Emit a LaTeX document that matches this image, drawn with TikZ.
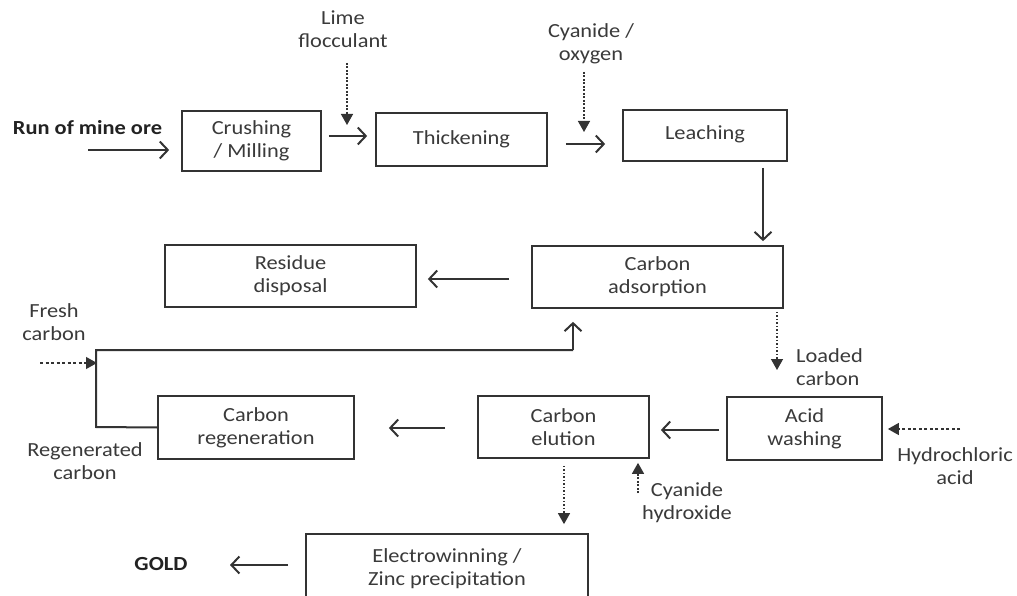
\documentclass[tikz,border=0pt]{standalone}
\usepackage{fontspec}
\setmainfont{Carlito}[FakeStretch=1.12]
\usetikzlibrary{arrows.meta}
\definecolor{ink}{HTML}{333333}
\definecolor{txt}{HTML}{3A3A3A}
\definecolor{boldtxt}{HTML}{222222}
\begin{document}
\begin{tikzpicture}[x=1pt,y=-1pt,
  every node/.style={font=\fontsize{20}{23}\selectfont, text=txt, align=center, inner sep=0pt},
  box/.style={draw=ink, line width=1.7pt},
  flow/.style={draw=ink, line width=2pt, -{Straight Barb[length=8pt,width=17pt]}},
  feed/.style={draw=ink, line width=1.4pt, dash pattern=on 1.6pt off 1.9pt, -{Triangle[length=11pt,width=12pt]}},
  feeddash/.style={draw=ink, line width=1.1pt, dash pattern=on 3pt off 2.5pt, -{Triangle[length=11pt,width=12pt]}},
  boldlabel/.style={font=\fontsize{20}{23}\selectfont\bfseries, text=boldtxt}
]
\clip (0,0) rectangle (1017,596);
\fill[white] (0,0) rectangle (1017,596);

% boxes
\node[box, minimum width=139pt, minimum height=60pt] (crush) at (251.5,141) {Crushing\\/ Milling};
\node[box, minimum width=171pt, minimum height=53pt] (thick) at (461.5,139.5) {\raisebox{4pt}{Thickening}};
\node[box, minimum width=164pt, minimum height=51pt] (leach) at (705,135.5) {\raisebox{5pt}{Leaching}};
\node[box, minimum width=251pt, minimum height=62pt] (adsorb) at (657.5,277) {Carbon\\adsorption};
\node[box, minimum width=251pt, minimum height=62pt] (resid) at (290.5,276) {Residue\\disposal};
\node[box, minimum width=196pt, minimum height=63pt] (regen) at (256,427.5) {Carbon\\regeneration};
\node[box, minimum width=171pt, minimum height=62pt] (elut) at (563.5,427) {Carbon\\elution};
\node[box, minimum width=155pt, minimum height=63pt] (acid) at (804.5,428.5) {Acid\\washing};
\node[box, minimum width=282pt, minimum height=69pt] (elec) at (447,568.5) {Electrowinning /\\Zinc precipitation};

% labels
\node[boldlabel] (ore) at (87.5,128) {Run of mine ore};
\node (lime) at (343,29) {Lime\\flocculant};
\node (cyox) at (591,44) {Cyanide /\\oxygen};
\node[align=left, anchor=west] (loaded) at (796,367.5) {Loaded\\carbon};
\node (fresh) at (54,322) {Fresh\\carbon};
\node (regc) at (85,461.5) {Regenerated\\carbon};
\node (hcl) at (955,466) {Hydrochloric\\acid};
\node (cyhy) at (687,502.5) {Cyanide\\hydroxide};
\node[boldlabel] (gold) at (161,564) {GOLD};

% free ends
\coordinate (oreS) at (88,150);
\coordinate (limeS) at (347,63);
\coordinate (cyoxS) at (584,72);
\coordinate (freshS) at (40,363);
\coordinate (freshE) at (97,363);
\coordinate (hclS) at (960,429);
\coordinate (cyhyS) at (638,493);
\coordinate (loopA) at (96,427);
\coordinate (loopB) at (96,350);
\coordinate (loopC) at (573,350);
\coordinate (goldE) at (230,565);

% main flow
\draw[flow, shorten >=12pt] (oreS) -- (crush.west |- oreS);
\draw[flow, shorten <=7pt, shorten >=8pt] (crush.east |- 0,136) -- (thick.west |- 0,136);
\draw[flow, shorten <=18pt, shorten >=17pt] (thick.east |- 0,144) -- (leach.west |- 0,144);
\draw[flow, shorten <=6pt, shorten >=4pt] (leach.south -| 763,0) -- (adsorb.north -| 763,0);
\draw[flow, shorten <=22pt, shorten >=11pt] (adsorb.west |- 0,279) -- (resid.east |- 0,279);
\draw[flow, shorten <=7pt, shorten >=11pt] (acid.west |- 0,430) -- (elut.east |- 0,430);
\draw[flow, shorten <=32pt, shorten >=34pt] (elut.west |- 0,428) -- (regen.east |- 0,428);
\draw[flow, shorten <=17pt] (elec.west |- goldE) -- (goldE);
\draw[draw=ink, line width=2pt, line join=miter] (regen.west) -- (loopA) -- (loopB) -- (loopC);
\draw[flow, shorten >=13pt] (loopC) -- (adsorb.south -| loopC);

% reagent feeds
\draw[feed] (limeS) -- (347,125);
\draw[feed] (cyoxS) -- (584,132);
\draw[feed, shorten <=3pt, shorten >=2pt] (adsorb.south -| 777,0) -- (777,372);
\draw[feed, shorten <=7pt, shorten >=9pt] (elut.south -| 564,0) -- (elec.north -| 564,0);
\draw[feed, shorten >=4pt] (cyhyS) -- (elut.south -| cyhyS);
\draw[feeddash, shorten >=5pt] (hclS) -- (acid.east |- hclS);
\draw[feeddash] (freshS) -- (freshE);
\end{tikzpicture}
\end{document}
